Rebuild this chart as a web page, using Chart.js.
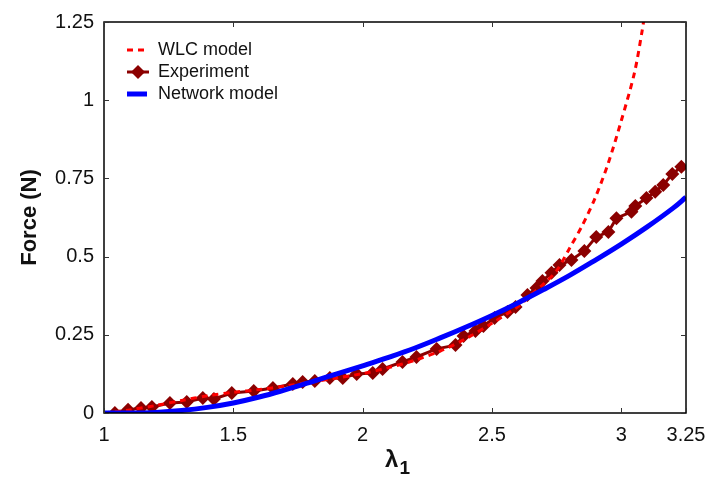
<!DOCTYPE html>
<html>
<head>
<meta charset="utf-8">
<script src="https://cdn.jsdelivr.net/npm/chart.js@4.4.1/dist/chart.umd.min.js"></script>
<style>
html,body{margin:0;padding:0;background:#fff;}
#wrap{width:707px;height:478px;position:relative;}
</style>
</head>
<body>
<div id="wrap"><canvas id="c" width="707" height="478"></canvas></div>
<script>
// ---- data ----
const expLambda = [1.042,1.093,1.143,1.185,1.255,1.320,1.382,1.425,1.494,1.579,1.653,1.730,1.768,1.815,1.873,1.923,1.977,2.039,2.077,2.154,2.208,2.286,2.359,2.390,2.436,2.467,2.510,2.560,2.591,2.637,2.672,2.695,2.730,2.761,2.807,2.857,2.903,2.950,2.981,3.039,3.054,3.097,3.131,3.162,3.197,3.232];
const expForce  = [0.000,0.010,0.016,0.019,0.032,0.035,0.048,0.045,0.064,0.070,0.080,0.093,0.099,0.102,0.112,0.112,0.125,0.128,0.141,0.163,0.179,0.205,0.217,0.246,0.262,0.278,0.304,0.323,0.339,0.377,0.400,0.422,0.448,0.473,0.489,0.518,0.563,0.579,0.623,0.643,0.662,0.687,0.707,0.729,0.764,0.787];

const wlcLambda = [1.0,1.1,1.2,1.3,1.4,1.5,1.6,1.7,1.8,1.9,2.0,2.1,2.2,2.3,2.4,2.5,2.6,2.65,2.7,2.75,2.8,2.85,2.9,2.95,3.0,3.05,3.08,3.1];
const wlcForce  = [0.0,0.010,0.024,0.040,0.055,0.066,0.075,0.086,0.099,0.112,0.126,0.145,0.168,0.198,0.238,0.287,0.340,0.377,0.413,0.455,0.527,0.601,0.690,0.800,0.935,1.085,1.220,1.330];

const netLambda = [1.0,1.1,1.2,1.3,1.4,1.5,1.6,1.7,1.8,1.9,2.0,2.1,2.2,2.3,2.4,2.5,2.6,2.7,2.8,2.9,3.0,3.1,3.2,3.25];
const netForce  = [0.0,0.0,0.002,0.008,0.018,0.032,0.051,0.074,0.099,0.125,0.151,0.178,0.207,0.240,0.275,0.312,0.352,0.395,0.440,0.489,0.540,0.595,0.655,0.690];

const xTicks = [1,1.5,2,2.5,3,3.25];
const yTicks = [0,0.25,0.5,0.75,1,1.25];
const seriesNames = ['WLC model','Experiment','Network model'];
const xTitleMain = 'λ', xTitleSub = '1';

const pts = (xs, ys) => xs.map((x,i)=>({x:x,y:ys[i]}));

const FONT = '"Liberation Sans", Arial, sans-serif';

const framePlugin = {
  id:'frame',
  afterDatasetsDraw(chart){
    const {ctx, chartArea:a, scales:{x,y}} = chart;
    ctx.save();
    ctx.strokeStyle = '#000';
    ctx.lineWidth = 1.5;
    ctx.strokeRect(a.left, a.top, a.right-a.left, a.bottom-a.top);
    ctx.lineWidth = 1;
    ctx.strokeStyle = '#333';
    const L = 5;
    xTicks.forEach(v=>{
      const px = Math.round(x.getPixelForValue(v))+0.5;
      ctx.beginPath();
      ctx.moveTo(px,a.bottom); ctx.lineTo(px,a.bottom-L);
      ctx.moveTo(px,a.top); ctx.lineTo(px,a.top+L);
      ctx.stroke();
    });
    yTicks.forEach(v=>{
      const py = Math.round(y.getPixelForValue(v))+0.5;
      ctx.beginPath();
      ctx.moveTo(a.left,py); ctx.lineTo(a.left+L,py);
      ctx.moveTo(a.right,py); ctx.lineTo(a.right-L,py);
      ctx.stroke();
    });
    // legend
    const lx = a.left + 23, tx = a.left + 54;
    const rows = [a.top+28, a.top+50, a.top+72];
    ctx.font = '18px ' + FONT;
    ctx.fillStyle = '#111';
    ctx.textBaseline = 'middle';
    ctx.textAlign = 'left';
    ctx.strokeStyle = '#ff0000'; ctx.lineWidth = 3; ctx.setLineDash([6,5]);
    ctx.beginPath(); ctx.moveTo(lx, rows[0]); ctx.lineTo(lx+20, rows[0]); ctx.stroke();
    ctx.setLineDash([]);
    ctx.fillText(seriesNames[0], tx, rows[0]);
    ctx.strokeStyle = '#8b0000'; ctx.lineWidth = 3;
    ctx.beginPath(); ctx.moveTo(lx, rows[1]); ctx.lineTo(lx+22, rows[1]); ctx.stroke();
    ctx.fillStyle = '#8b0000';
    const cx = lx+11, cy = rows[1], r = 7;
    ctx.beginPath(); ctx.moveTo(cx, cy-r); ctx.lineTo(cx+r, cy); ctx.lineTo(cx, cy+r); ctx.lineTo(cx-r, cy); ctx.closePath(); ctx.fill();
    ctx.fillStyle = '#111';
    ctx.fillText(seriesNames[1], tx, rows[1]);
    ctx.strokeStyle = '#0000ff'; ctx.lineWidth = 5;
    ctx.beginPath(); ctx.moveTo(lx, rows[2]); ctx.lineTo(lx+20, rows[2]); ctx.stroke();
    ctx.fillText(seriesNames[2], tx, rows[2]);
    // x axis title with subscript
    const midX = (a.left + a.right) / 2;
    ctx.textBaseline = 'alphabetic';
    ctx.font = 'bold 24px ' + FONT;
    const wMain = ctx.measureText(xTitleMain).width;
    ctx.font = 'bold 19px ' + FONT;
    const wSub = ctx.measureText(xTitleSub).width;
    const startX = midX - (wMain + wSub) / 2 + 2;
    ctx.font = 'bold 24px ' + FONT;
    ctx.fillText(xTitleMain, startX, 467);
    ctx.font = 'bold 19px ' + FONT;
    ctx.fillText(xTitleSub, startX + wMain + 1, 474);
    ctx.restore();
  }
};

new Chart(document.getElementById('c'), {
  type:'scatter',
  data:{
    datasets:[
      {label:seriesNames[0], data:pts(wlcLambda,wlcForce), showLine:true, borderColor:'#ff0000', borderWidth:3, borderDash:[6,5], pointRadius:0, tension:0.3, order:1},
      {label:seriesNames[1], data:pts(expLambda,expForce), showLine:true, borderColor:'#8b0000', backgroundColor:'#8b0000', borderWidth:3, pointStyle:'rectRot', pointRadius:7, pointBorderWidth:0, order:2},
      {label:seriesNames[2], data:pts(netLambda,netForce), showLine:true, borderColor:'#0000ff', borderWidth:5, pointRadius:0, tension:0.4, order:0}
    ]
  },
  options:{
    responsive:false,
    animation:false,
    events:[],
    layout:{padding:{left:0,right:21,top:22,bottom:0}},
    plugins:{legend:{display:false}, tooltip:{enabled:false}},
    scales:{
      x:{
        type:'linear', min:1, max:3.25,
        afterBuildTicks(s){ s.ticks = xTicks.map(v=>({value:v})); },
        afterFit(s){ s.height = 65; s.paddingLeft = 0; s.paddingRight = 0; },
        grid:{display:false, drawTicks:false},
        border:{display:false},
        ticks:{font:{family:FONT,size:20}, color:'#111', padding:10, maxRotation:0, autoSkip:false, callback:v=>String(v)},
        title:{display:false}
      },
      y:{
        min:0, max:1.25,
        afterBuildTicks(s){ s.ticks = yTicks.map(v=>({value:v})); },
        afterFit(s){ s.width = 104; s.paddingTop = 0; s.paddingBottom = 0; },
        grid:{display:false, drawTicks:false},
        border:{display:false},
        ticks:{font:{family:FONT,size:20}, color:'#111', padding:10, callback:v=>String(v)},
        title:{display:true, text:'Force (N)', font:{family:FONT,size:22,weight:'bold'}, color:'#111', padding:{top:17,bottom:4}}
      }
    }
  },
  plugins:[framePlugin]
});
</script>
</body>
</html>
